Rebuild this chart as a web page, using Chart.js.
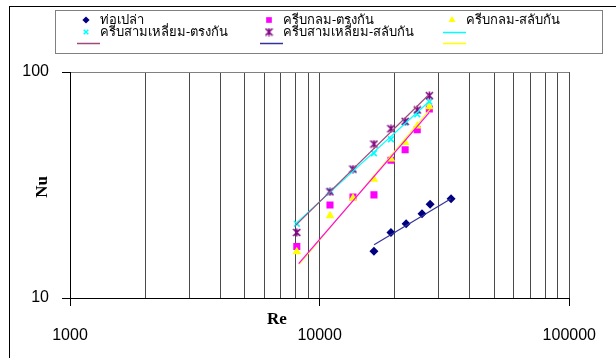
<!DOCTYPE html>
<html>
<head>
<meta charset="utf-8">
<script src="https://cdn.jsdelivr.net/npm/chart.js@4.4.1/dist/chart.umd.min.js"></script>
<style>
html, body { margin: 0; padding: 0; background: #fff; }
canvas { display: block; }
</style>
</head>
<body>
<canvas id="nuChart" width="616" height="358"></canvas>
<script>
// Reynolds numbers
var reFinned = [8100, 11000, 13600, 16500, 19300, 22000, 24600, 27500];
var rePlain = [16500, 19300, 22200, 25700, 27700, 33600];

// Nusselt numbers
var nuPlain = [16.1, 19.5, 21.3, 23.6, 26.0, 27.5];
var nuRoundInline = [16.9, 25.8, 28.0, 28.6, 40.7, 45.3, 55.5, 68.6];
var nuRoundStagger = [16.0, 23.1, 27.6, 33.5, 41.2, 48.7, 57.7, 70.2];
var nuTriInline = [21.3, 29.8, 36.9, 43.7, 50.4, 59.7, 65.0, 73.9];
var nuTriStagger = [19.5, 29.5, 37.2, 48.0, 56.1, 60.5, 67.9, 78.6];

// trend line end points [Re, Nu]
var fitTriInline = [[8040, 21.4], [27650, 74.6]];
var fitTriStagger = [[7990, 20.9], [27300, 79.1]];
var fitRoundInline = [[8240, 14.2], [27460, 66.1]];
var fitRoundStagger = [[8280, 14.1], [27650, 68.4]];
var fitPlain = [[16520, 17.2], [33560, 27.5]];

var xTicks = [1000, 2000, 3000, 4000, 5000, 6000, 7000, 8000, 9000,
    10000, 20000, 30000, 40000, 50000, 60000, 70000, 80000, 90000, 100000];
var xLabelTicks = [1000, 10000, 100000];
var yTicks = [10, 100];

var seriesNames = ['ท่อเปล่า', 'ครีบกลม-ตรงกัน', 'ครีบกลม-สลับกัน', 'ครีบสามเหลี่ยม-ตรงกัน', 'ครีบสามเหลี่ยม-สลับกัน'];

function toPoints(xs, ys) {
    return xs.map(function(x, i) { return { x: x, y: ys[i] }; });
}
function pairPoints(p) {
    return p.map(function(v) { return { x: v[0], y: v[1] }; });
}

// star marker: x with a vertical bar
var starMark = document.createElement('canvas');
starMark.width = 9;
starMark.height = 9;
(function() {
    var c = starMark.getContext('2d');
    c.strokeStyle = '#800080';
    c.lineWidth = 1.6;
    c.beginPath();
    c.moveTo(1, 1); c.lineTo(8, 8);
    c.moveTo(8, 1); c.lineTo(1, 8);
    c.moveTo(4.5, 0.5); c.lineTo(4.5, 8.5);
    c.stroke();
})();

function markerSet(label, data, style, color, radius, order) {
    return {
        label: label,
        data: data,
        showLine: false,
        pointStyle: style,
        pointRadius: radius,
        pointBackgroundColor: color,
        pointBorderColor: color,
        pointBorderWidth: (style === 'crossRot') ? 1.6 : 0,
        backgroundColor: color,
        borderColor: color,
        order: order
    };
}

function lineSet(data, color, order) {
    return {
        label: '',
        data: data,
        showLine: true,
        pointRadius: 0,
        borderColor: color,
        backgroundColor: color,
        borderWidth: 1.2,
        fill: false,
        order: order
    };
}

var datasets = [
    markerSet(seriesNames[0], toPoints(rePlain, nuPlain), 'rectRot', '#000080', 4.5, 10),
    markerSet(seriesNames[1], toPoints(reFinned, nuRoundInline), 'rect', '#ff00ff', 5, 9),
    markerSet(seriesNames[2], toPoints(reFinned, nuRoundStagger), 'triangle', '#ffff00', 5, 8),
    markerSet(seriesNames[3], toPoints(reFinned, nuTriInline), 'crossRot', '#00ffff', 4, 7),
    markerSet(seriesNames[4], toPoints(reFinned, nuTriStagger), starMark, '#800080', 4.5, 6),
    lineSet(pairPoints(fitTriInline), '#00ffff', 5),
    lineSet(pairPoints(fitTriStagger), '#a04a7a', 4),
    lineSet(pairPoints(fitPlain), '#333399', 3),
    lineSet(pairPoints(fitRoundStagger), '#ffff00', 2),
    lineSet(pairPoints(fitRoundInline), '#ff00ff', 1)
];

// legend slots: dataset index -> column / row (last fit line is cut off in the original box)
var legendSlots = [
    { ds: 0, col: 0, row: 0 }, { ds: 1, col: 1, row: 0 }, { ds: 2, col: 2, row: 0 },
    { ds: 3, col: 0, row: 1 }, { ds: 4, col: 1, row: 1 }, { ds: 5, col: 2, row: 1 },
    { ds: 6, col: 0, row: 2 }, { ds: 7, col: 1, row: 2 }, { ds: 8, col: 2, row: 2 }
];
var legendCols = [88, 271, 454];
var legendRows = [20, 32, 43];

var extrasPlugin = {
    id: 'extras',
    afterDraw: function(chart) {
        var ctx = chart.ctx;
        ctx.save();
        // outer frame
        ctx.strokeStyle = '#000';
        ctx.lineWidth = 1;
        ctx.strokeRect(9.5, 6.5, 700, 400);

        // legend box
        ctx.fillStyle = '#fff';
        ctx.fillRect(55, 10, 548, 44);
        ctx.strokeStyle = '#808080';
        ctx.strokeRect(55.5, 10.5, 547, 43);

        ctx.font = '13px "Noto Sans", "DejaVu Sans", sans-serif';
        ctx.textBaseline = 'middle';
        ctx.textAlign = 'left';
        legendSlots.forEach(function(s) {
            var ds = chart.data.datasets[s.ds];
            var cx = legendCols[s.col];
            var cy = legendRows[s.row];
            if (ds.showLine) {
                ctx.strokeStyle = ds.borderColor;
                ctx.lineWidth = 1.5;
                ctx.beginPath();
                ctx.moveTo(cx - 11, cy + 0.5);
                ctx.lineTo(cx + 12, cy + 0.5);
                ctx.stroke();
            } else {
                ctx.fillStyle = ds.pointBackgroundColor;
                ctx.strokeStyle = ds.pointBorderColor;
                ctx.lineWidth = ds.pointBorderWidth;
                Chart.helpers.drawPoint(ctx, {
                    pointStyle: ds.pointStyle,
                    radius: ds.pointRadius * 0.8,
                    borderWidth: ds.pointBorderWidth,
                    rotation: 0
                }, cx - 2, cy);
            }
            if (ds.label) {
                ctx.fillStyle = '#000';
                ctx.fillText(ds.label, cx + 12, cy);
            }
        });

        // axis titles
        ctx.fillStyle = '#000';
        ctx.font = 'bold 17px "Liberation Serif", "Times New Roman", serif';
        ctx.textAlign = 'center';
        ctx.textBaseline = 'middle';
        ctx.fillText('Re', 277, 320);
        ctx.translate(43, 187);
        ctx.rotate(-Math.PI / 2);
        ctx.fillText('Nu', 0, 0);
        ctx.restore();
    }
};

var tickFont = { family: '"Liberation Sans", Arial, sans-serif', size: 16 };

new Chart(document.getElementById('nuChart'), {
    type: 'scatter',
    data: { datasets: datasets },
    options: {
        responsive: false,
        animation: false,
        layout: { padding: { top: 72, right: 39, bottom: 0, left: 0 } },
        plugins: {
            legend: { display: false },
            tooltip: { enabled: false }
        },
        scales: {
            x: {
                type: 'logarithmic',
                min: 1000,
                max: 100000,
                afterBuildTicks: function(axis) {
                    axis.ticks = xTicks.map(function(v) { return { value: v }; });
                },
                afterFit: function(axis) { axis.height = 60; },
                ticks: {
                    autoSkip: false,
                    maxRotation: 0,
                    padding: 20,
                    color: '#000',
                    font: tickFont,
                    callback: function(value) {
                        return xLabelTicks.indexOf(value) >= 0 ? String(value) : '';
                    }
                },
                grid: {
                    color: '#4a4a4a',
                    lineWidth: 1,
                    drawTicks: true,
                    tickLength: 8,
                    tickColor: function(c) {
                        return (c.tick && xLabelTicks.indexOf(c.tick.value) >= 0) ? '#000' : 'rgba(0,0,0,0)';
                    }
                },
                border: { color: '#000', width: 1 }
            },
            y: {
                type: 'logarithmic',
                min: 10,
                max: 100,
                afterBuildTicks: function(axis) {
                    axis.ticks = yTicks.map(function(v) { return { value: v }; });
                },
                afterFit: function(axis) { axis.width = 70; },
                ticks: {
                    padding: 13,
                    color: '#000',
                    font: tickFont,
                    callback: function(value) { return String(value); }
                },
                grid: {
                    color: '#808080',
                    lineWidth: 1,
                    drawTicks: true,
                    tickLength: 8,
                    tickColor: '#000'
                },
                border: { color: '#000', width: 1 }
            }
        }
    },
    plugins: [extrasPlugin]
});
</script>
</body>
</html>
